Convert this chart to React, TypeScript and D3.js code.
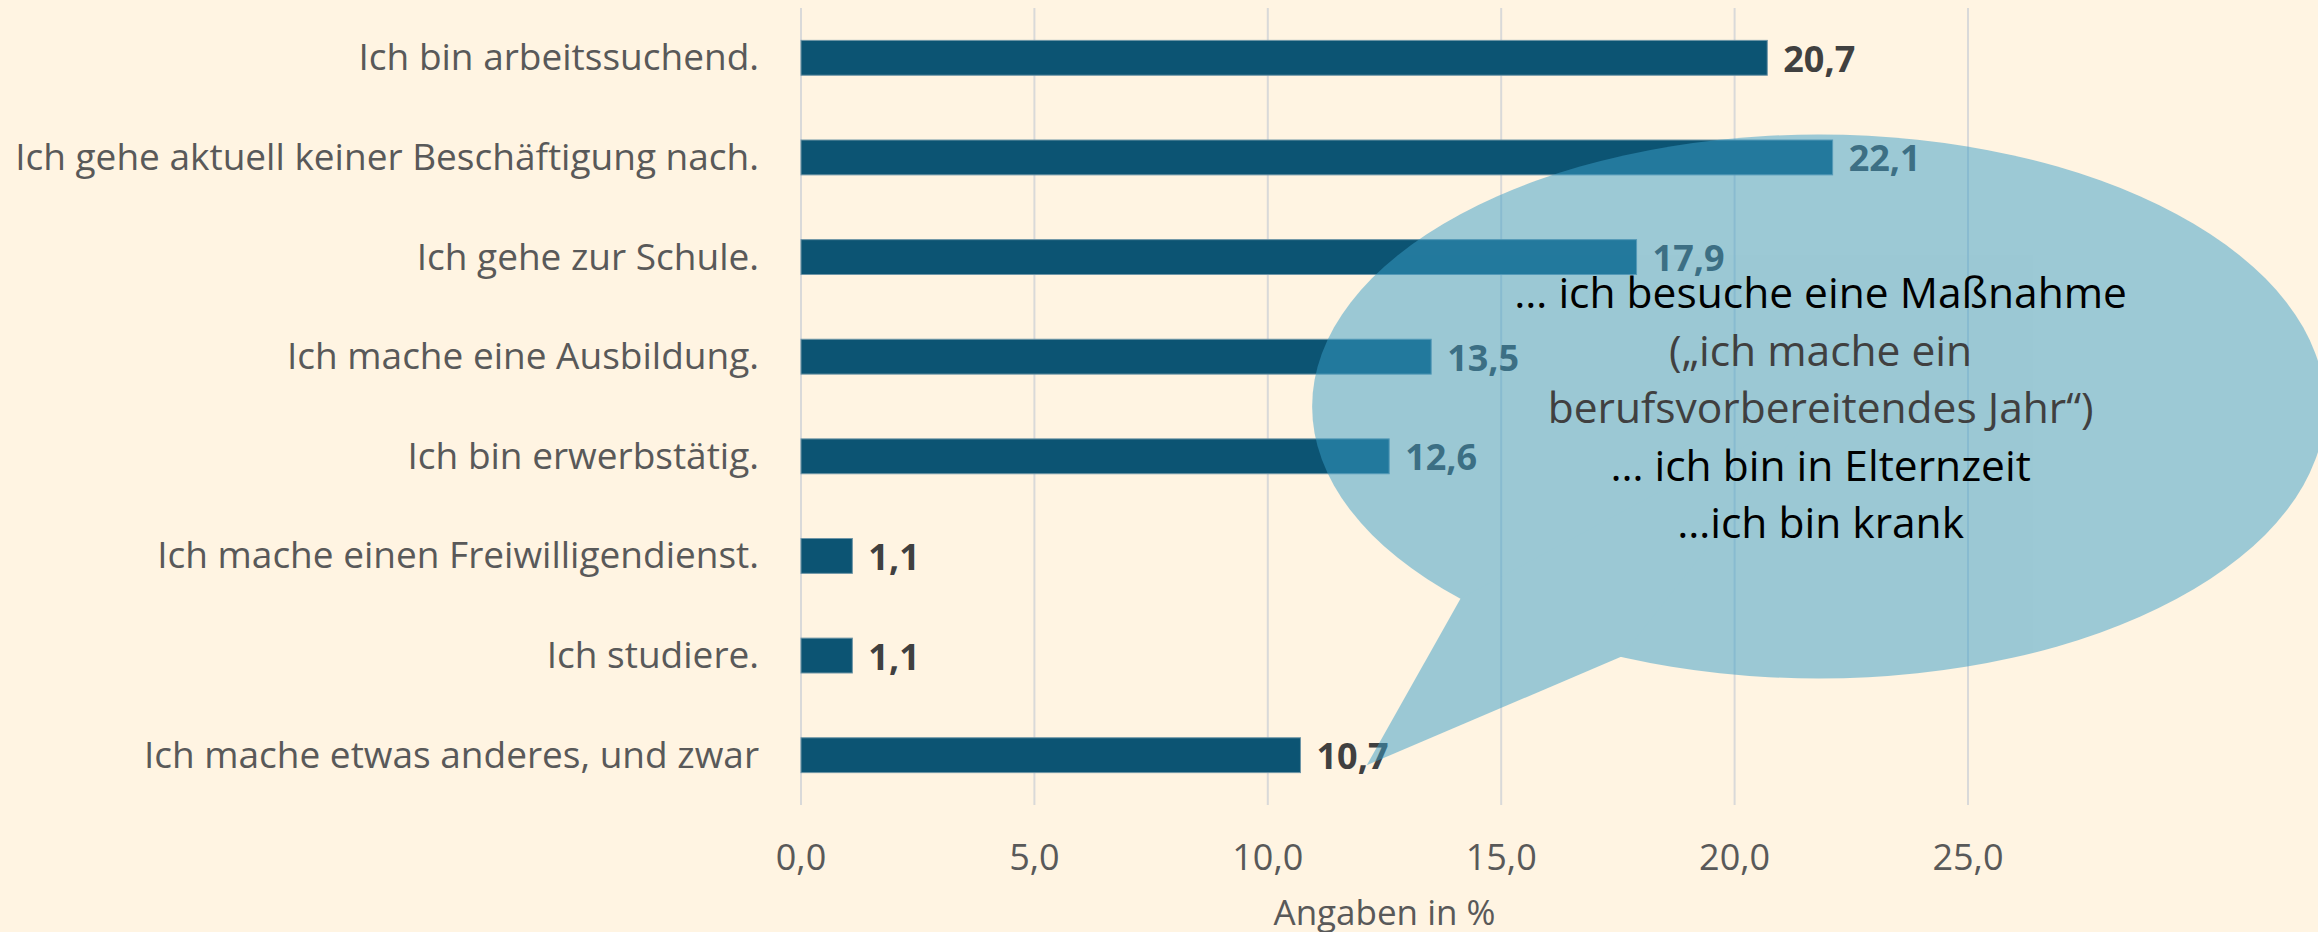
import React from "react";
import * as d3 from "d3";

const categories = [
  "Ich bin arbeitssuchend.",
  "Ich gehe aktuell keiner Beschäftigung nach.",
  "Ich gehe zur Schule.",
  "Ich mache eine Ausbildung.",
  "Ich bin erwerbstätig.",
  "Ich mache einen Freiwilligendienst.",
  "Ich studiere.",
  "Ich mache etwas anderes, und zwar",
];
const values = [20.7, 22.1, 17.9, 13.5, 12.6, 1.1, 1.1, 10.7];
const ticks = [0, 5, 10, 15, 20, 25];
const axisTitle = "Angaben in %";
const bubbleLines = [
  { text: "… ich besuche eine Maßnahme", color: "#000000" },
  { text: "(„ich mache ein", color: "#404040" },
  { text: "berufsvorbereitendes Jahr“)", color: "#404040" },
  { text: "… ich bin in Elternzeit", color: "#000000" },
  { text: "…ich bin krank", color: "#000000" },
];

const W = 2318;
const H = 932;
const FONT = "'Open Sans', Lato, sans-serif";
const fmt = (v: number) => v.toFixed(1).replace(".", ",");

export default function App() {
  const x = d3.scaleLinear().domain([0, 25]).range([801, 1968]);
  const y = d3
    .scaleBand<string>()
    .domain(categories)
    .range([8, 805])
    .paddingInner(0.65)
    .paddingOuter(0.325);
  const bw = y.bandwidth();
  const cy = (c: string) => (y(c) as number) + bw / 2;

  // speech bubble, positioned in data units
  const ex = x(21.8);
  const ey = (cy(categories[3]) + cy(categories[4])) / 2;
  const erx = x(10.85) - x(0);
  const ery = 272;
  const tailA: [number, number] = [x(14.13), ey + 192];
  const tailTip: [number, number] = [x(12.12), cy(categories[7]) + 10];
  const tailB: [number, number] = [x(17.58), ey + 250];
  const lineH = 57.5;

  return (
    <svg
      width={W}
      height={H}
      style={{ position: "absolute", left: 0, top: 0, display: "block" }}
      fontFamily={FONT}
    >
      <rect x={0} y={0} width={W} height={H} fill="#FFF4E2" />
      {ticks.map((t) => (
        <line
          key={"g" + t}
          x1={x(t)}
          x2={x(t)}
          y1={8}
          y2={805}
          stroke="#D9D9D9"
          strokeWidth={2}
        />
      ))}
      {categories.map((c, i) => (
        <g key={c}>
          <rect
            x={x(0)}
            y={y(c)}
            width={x(values[i]) - x(0)}
            height={bw}
            fill="#0C5473"
            stroke="#6E95A6"
            strokeWidth={1}
          />
          <text
            x={759}
            y={cy(c) + 12.5}
            textAnchor="end"
            fontSize={37}
            fill="#595959"
          >
            {c}
          </text>
          <text
            x={x(values[i]) + 16}
            y={cy(c) + 14}
            fontSize={36}
            fontWeight="bold"
            fill="#404040"
          >
            {fmt(values[i])}
          </text>
        </g>
      ))}
      {ticks.map((t) => (
        <text
          key={"t" + t}
          x={x(t)}
          y={870}
          textAnchor="middle"
          fontSize={36}
          fill="#595959"
        >
          {fmt(t)}
        </text>
      ))}
      <text
        x={(x(0) + x(25)) / 2}
        y={925}
        textAnchor="middle"
        fontSize={35}
        fill="#595959"
      >
        {axisTitle}
      </text>
      <g opacity={0.5}>
        <ellipse cx={ex} cy={ey} rx={erx} ry={ery} fill="#399EC8" />
        <path
          d={`M${tailA[0]},${tailA[1]}L${tailTip[0]},${tailTip[1]}L${tailB[0]},${tailB[1]}L${ex},${ey}Z`}
          fill="#399EC8"
        />
      </g>
      {bubbleLines.map((l, i) => (
        <text
          key={"b" + i}
          x={ex + 2}
          y={308 + i * lineH}
          textAnchor="middle"
          fontSize={42.5}
          fill={l.color}
        >
          {l.text}
        </text>
      ))}
    </svg>
  );
}
